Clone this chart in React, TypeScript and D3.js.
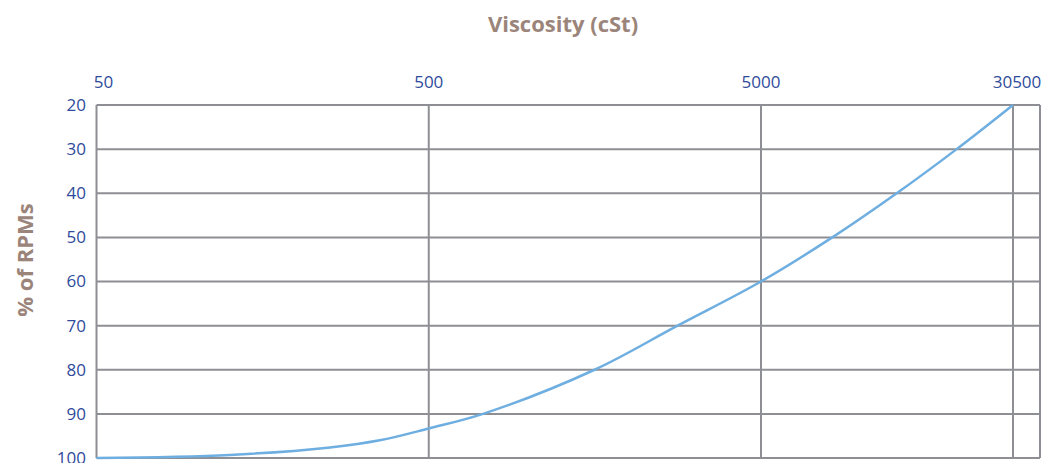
import React from "react";
import * as d3 from "d3";

const xTicks = [50, 500, 5000, 30500];
const yTicks = [20, 30, 40, 50, 60, 70, 80, 90, 100];
const viscosity = [50, 126, 252, 356, 500, 728, 1578, 2805, 5000, 8340, 13240, 20360, 30500];
const rpmPercent = [100, 99.3, 97.6, 96.0, 93.3, 90, 80, 70, 60, 50, 40, 30, 20];

const W = 1045;
const H = 463;
const left = 96.5;
const right = 1040;
const top = 105;
const bottom = 458;

export default function App() {
  const x = d3.scaleLog().domain([50, 5000, 30500]).range([left, 761, 1013]);
  const y = d3.scaleLinear().domain([20, 100]).range([top, bottom]);
  const pts = viscosity.map((v, i) => [x(v), y(rpmPercent[i])] as [number, number]);
  const line = d3.line().curve(d3.curveCatmullRom.alpha(0.5))(pts) || "";
  const grid = "#8e8e95";
  const tickColor = "#2f4b9b";
  const titleColor = "#9b857a";
  const font = "'Open Sans', sans-serif";
  const xLabelDx = (i: number) => (i === 0 ? 7 : i === xTicks.length - 1 ? 4 : 0);
  return (
    <svg width={W} height={H} style={{ position: "absolute", left: 0, top: 0 }} fontFamily={font}>
      <rect x={0} y={0} width={W} height={H} fill="#fff" />
      {yTicks.map((t) => (
        <line key={"y" + t} x1={left} x2={right} y1={y(t)} y2={y(t)} stroke={grid} strokeWidth={2} />
      ))}
      {xTicks.map((t) => (
        <line key={"x" + t} x1={x(t)} x2={x(t)} y1={top} y2={bottom} stroke={grid} strokeWidth={2} />
      ))}
      <line x1={right} x2={right} y1={top} y2={bottom} stroke={grid} strokeWidth={2} />
      <path d={line} fill="none" stroke="#6eaee0" strokeWidth={2.5} />
      {yTicks.map((t) => (
        <text key={"yl" + t} x={86} y={y(t)} dy="0.35em" textAnchor="end" fontSize={17} fill={tickColor}>
          {t}
        </text>
      ))}
      {xTicks.map((t, i) => (
        <text key={"xl" + t} x={x(t) + xLabelDx(i)} y={88} textAnchor="middle" fontSize={17} fill={tickColor}>
          {t}
        </text>
      ))}
      <text x={563} y={32} textAnchor="middle" fontSize={22} fontWeight="bold" fill={titleColor}>
        Viscosity (cSt)
      </text>
      <text
        transform="translate(33,260) rotate(-90)"
        textAnchor="middle"
        fontSize={22}
        fontWeight="bold"
        fill={titleColor}
      >
        % of RPMs
      </text>
    </svg>
  );
}
